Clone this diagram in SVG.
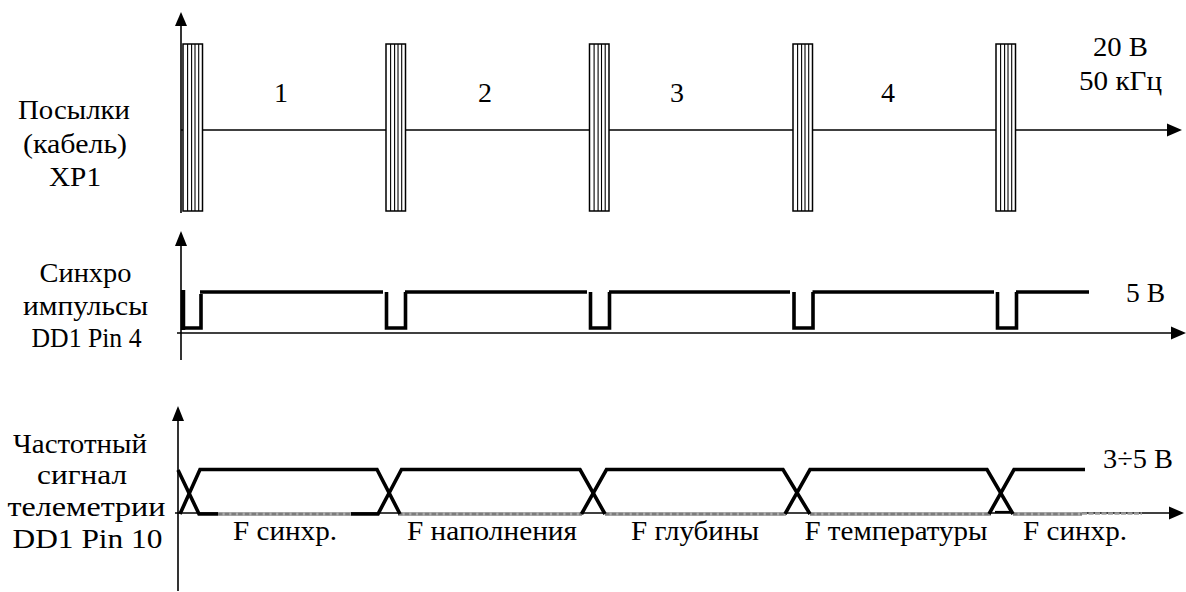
<svg xmlns="http://www.w3.org/2000/svg" width="1186" height="592" viewBox="0 0 1186 592">
<style>
text{font-family:"Liberation Serif","Times New Roman",serif;font-size:28px;fill:#000;text-anchor:middle}
.ax{stroke:#000;stroke-width:1.6;fill:none}
.sig{stroke:#000;stroke-width:3.6;fill:none}
.grb{stroke:#ababab;stroke-width:3.8;fill:none}
.grd{stroke:#7c7c7c;stroke-width:2.4;fill:none;stroke-dasharray:4.5 2.2}
.blk{fill:#fff;stroke:#000;stroke-width:1.5}
.st{stroke:#000;stroke-width:1.1}
</style>
<defs>
<g id="block">
<rect class="blk" x="0" y="0" width="19.5" height="167"/>
<line class="st" x1="4.6" y1="0" x2="4.6" y2="167"/>
<line class="st" x1="8.6" y1="0" x2="8.6" y2="167"/>
<line class="st" x1="12" y1="0" x2="12" y2="167"/>
<line class="st" x1="15.7" y1="0" x2="15.7" y2="167"/>
</g>
</defs>
<rect width="1186" height="592" fill="#fff"/>

<g id="panel-top">
<g id="connectors-top">
<line class="ax" x1="181" y1="213" x2="181" y2="24"/>
<polygon points="181,12 175,26 187,26" fill="#000"/>
<line class="ax" x1="181" y1="130" x2="1168" y2="130"/>
<polygon points="1182,130 1167,123.5 1167,136.5" fill="#000"/>
</g>
<use href="#block" x="183" y="44"/>
<use href="#block" x="386" y="44"/>
<use href="#block" x="589.5" y="44"/>
<use href="#block" x="793" y="44"/>
<use href="#block" x="996" y="44"/>
<text x="281" y="102">1</text>
<text x="485" y="102">2</text>
<text x="677" y="102">3</text>
<text x="888" y="102">4</text>
<text x="1120.5" y="56" textLength="55" lengthAdjust="spacingAndGlyphs">20 В</text>
<text x="1120.5" y="90" textLength="83" lengthAdjust="spacingAndGlyphs">50 кГц</text>
<text x="74" y="119" textLength="112" lengthAdjust="spacingAndGlyphs">Посылки</text>
<text x="75" y="153" textLength="104" lengthAdjust="spacingAndGlyphs">(кабель)</text>
<text x="75" y="186" textLength="52" lengthAdjust="spacingAndGlyphs">ХР1</text>
</g>

<g id="panel-mid">
<g id="connectors-mid">
<line class="ax" x1="181" y1="360" x2="181" y2="244"/>
<polygon points="181,231 175,246 187,246" fill="#000"/>
<line class="ax" x1="177" y1="333" x2="1172" y2="333"/>
<polygon points="1186,333 1171,326.5 1171,339.5" fill="#000"/>
</g>
<g id="sync-signal">
<line x1="183" y1="290" x2="183" y2="330" stroke="#000" stroke-width="4.5"/>
<path class="sig" d="M183 328 H201 V294"/>
<line class="sig" x1="200" y1="292" x2="383" y2="292"/>
<path class="sig" d="M386.5 292 V328 H405.5 V292"/>
<line class="sig" x1="405" y1="292" x2="587" y2="292"/>
<path class="sig" d="M590.5 292 V328 H609.5 V292"/>
<line class="sig" x1="609" y1="292" x2="790" y2="292"/>
<path class="sig" d="M794 292 V328 H813 V292"/>
<line class="sig" x1="812.5" y1="292" x2="994" y2="292"/>
<path class="sig" d="M997.5 292 V328 H1016.5 V292"/>
<line class="sig" x1="1016" y1="292" x2="1089" y2="292"/>
</g>
<text x="1145.5" y="302" textLength="39" lengthAdjust="spacingAndGlyphs">5 В</text>
<text x="85.5" y="282" textLength="92" lengthAdjust="spacingAndGlyphs">Синхро</text>
<text x="85.5" y="315" textLength="125" lengthAdjust="spacingAndGlyphs">импульсы</text>
<text x="86.5" y="347" textLength="110" lengthAdjust="spacingAndGlyphs">DD1 Pin 4</text>
</g>

<g id="panel-bottom">
<g id="connectors-bottom">
<line class="ax" x1="178" y1="591" x2="178" y2="419"/>
<polygon points="178,406 172,421 184,421" fill="#000"/>
<line class="ax" x1="175" y1="513" x2="1170" y2="513"/>
<polygon points="1184,513 1169,506.5 1169,519.5" fill="#000"/>
</g>
<g id="freq-signal">
<path class="grb" d="M218 514 H351 M398 514 H582 M605 514 H786 M810 514 H991 M1013 514 H1082"/>
<path class="grd" d="M218 514 H351 M398 514 H582 M605 514 H786 M810 514 H991 M1013 514 H1082"/>
<line x1="1082" y1="513.5" x2="1142" y2="513.5" stroke="#9a9a9a" stroke-width="2.4" stroke-dasharray="5 1.5"/>
<path class="sig" d="M178 470 L199 514 H218"/>
<path class="sig" d="M180 514 L200 469.5 H377 L400 514"/>
<path class="sig" d="M351 514 H378 L401.5 469.5 H580 L605 514"/>
<path class="sig" d="M581.5 514 L606.5 469.5 H783 L810 514"/>
<path class="sig" d="M785 514 L810 469.5 H987 L1013 514"/>
<path class="sig" d="M989 514 L1014 469.5 H1085"/>
<line x1="995" y1="512" x2="1010" y2="512" stroke="#000" stroke-width="2.2"/>
</g>
<text x="1138" y="468" textLength="70" lengthAdjust="spacingAndGlyphs">3÷5 В</text>
<text x="285" y="540" textLength="104" lengthAdjust="spacingAndGlyphs">F синхр.</text>
<text x="492" y="540" textLength="170" lengthAdjust="spacingAndGlyphs">F наполнения</text>
<text x="695" y="540" textLength="128" lengthAdjust="spacingAndGlyphs">F глубины</text>
<text x="896" y="540" textLength="183" lengthAdjust="spacingAndGlyphs">F температуры</text>
<text x="1075" y="540" textLength="104" lengthAdjust="spacingAndGlyphs">F синхр.</text>
<text x="80" y="453" textLength="134" lengthAdjust="spacingAndGlyphs">Частотный</text>
<text x="82" y="484" textLength="90" lengthAdjust="spacingAndGlyphs">сигнал</text>
<text x="86.5" y="516" textLength="158" lengthAdjust="spacingAndGlyphs">телеметрии</text>
<text x="87.5" y="548" textLength="150" lengthAdjust="spacingAndGlyphs">DD1 Pin 10</text>
</g>
</svg>
